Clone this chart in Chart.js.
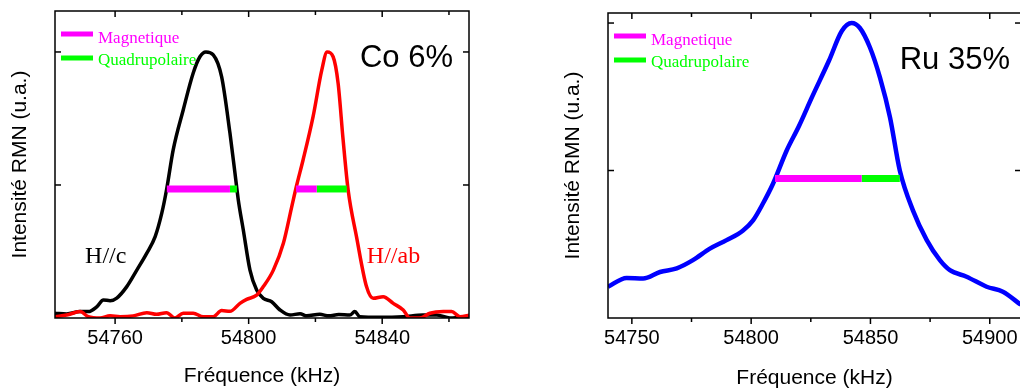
<!DOCTYPE html>
<html>
<head>
<meta charset="utf-8">
<script src="https://cdn.jsdelivr.net/npm/chart.js@4"></script>
<style>
  html, body { margin: 0; padding: 0; background: #fff; overflow: hidden; width: 1020px; height: 391px; }
  #co { position: absolute; left: 0; top: 0; }
  #ru { position: absolute; left: 550px; top: 0; }
</style>
</head>
<body>
<canvas id="co" width="510" height="391"></canvas>
<canvas id="ru" width="480" height="391"></canvas>
<script>
// Co 6% : H//c spectrum
const coFreqC = [54742.0, 54745.5, 54749.5, 54752.0, 54754.5, 54756.5, 54758.5, 54760.5,
  54763.5, 54766.5, 54769.5, 54772.0, 54774.0, 54775.4, 54777.4, 54780.4, 54783.4, 54785.4,
  54787.2, 54789.4, 54791.9, 54794.4, 54795.9, 54796.9, 54798.4, 54800.4, 54802.4, 54804.4,
  54806.9, 54809.4, 54812.4, 54815.4, 54817.4, 54821.3, 54824.0, 54827.0, 54830.3, 54831.8,
  54833.3, 54839.3, 54846.2, 54852.2, 54856.3, 54860.3, 54866.3];
const coIntC = [0.018, 0.015, 0.024, 0.024, 0.042, 0.068, 0.065, 0.075,
  0.118, 0.180, 0.244, 0.306, 0.395, 0.481, 0.632, 0.782, 0.921, 0.982,
  1.000, 0.989, 0.907, 0.695, 0.545, 0.444, 0.331, 0.180, 0.105, 0.074,
  0.061, 0.030, 0.011, 0.016, 0.008, 0.014, 0.008, 0.013, 0.011, 0.024,
  0.005, 0.003, 0.005, 0.011, 0.011, 0.000, 0.005];

// Co 6% : H//ab spectrum
const coFreqAB = [54742.0, 54745.5, 54749.5, 54752.0, 54755.5, 54758.5, 54761.5, 54765.4,
  54769.5, 54772.4, 54775.4, 54777.9, 54780.4, 54783.4, 54786.4, 54789.4, 54791.9, 54794.4,
  54797.4, 54799.4, 54802.4, 54804.4, 54807.4, 54810.4, 54812.9, 54814.4, 54816.3, 54819.3,
  54821.9, 54823.5, 54825.3, 54826.8, 54828.3, 54829.8, 54832.3, 54835.3, 54837.3, 54840.3,
  54843.3, 54846.3, 54848.3, 54851.3, 54854.3, 54858.3, 54860.8, 54863.3, 54866.3];
const coIntAB = [0.005, 0.011, 0.024, 0.005, 0.000, 0.008, 0.005, 0.008,
  0.020, 0.014, 0.020, 0.000, 0.018, 0.018, 0.005, 0.005, 0.028, 0.025,
  0.055, 0.070, 0.086, 0.118, 0.180, 0.281, 0.418, 0.500, 0.594, 0.757,
  0.932, 1.000, 0.982, 0.882, 0.669, 0.481, 0.306, 0.118, 0.074, 0.080,
  0.055, 0.030, 0.000, 0.000, 0.018, 0.024, 0.024, 0.005, 0.011];

// Ru 35% spectrum
const ruFreq = [54740.0, 54747.8, 54754.7, 54761.8, 54768.8, 54775.6, 54782.7, 54789.7,
  54796.6, 54800.8, 54805.0, 54809.2, 54814.9, 54820.0, 54825.4, 54832.6, 54838.0, 54842.1,
  54845.5, 54849.8, 54854.0, 54858.2, 54862.3, 54867.8, 54873.6, 54879.1, 54883.3, 54890.3,
  54898.7, 54905.5, 54913.0];
const ruInt = [0.106, 0.136, 0.134, 0.156, 0.168, 0.196, 0.235, 0.264,
  0.297, 0.331, 0.389, 0.456, 0.568, 0.650, 0.747, 0.872, 0.973, 1.000,
  0.984, 0.917, 0.815, 0.680, 0.500, 0.365, 0.264, 0.196, 0.162, 0.140,
  0.106, 0.089, 0.045];

// width bars: [start, magnetic end, quadrupolar end], height
const coBarC = [54775.5, 54794.4, 54796.5];
const coBarAB = [54814.2, 54820.4, 54829.4];
const coBarLevel = 0.485;
const ruBar = [54810.0, 54846.3, 54862.3];
const ruBarLevel = 0.473;

// axes
const coRange = [54742, 54866];
const coTicks = [54760, 54800, 54840];
const coMinor = [54780, 54820, 54860];
const ruRange = [54740, 54913.1];
const ruTicks = [54750, 54800, 54850, 54900];
const ruMinor = [54775, 54825, 54875];
const yTicks = [0.5, 1.0];

const MAGENTA = '#ff00ff';
const GREEN = '#00ff00';
const SANS = '"Liberation Sans", Arial, sans-serif';
const SERIF = '"Liberation Serif", "Times New Roman", serif';

const pts = (xs, ys) => xs.map((v, i) => ({ x: v, y: ys[i] }));
const curve = (xs, ys, color, w) => ({
  data: pts(xs, ys), borderColor: color, borderWidth: w,
  cubicInterpolationMode: 'monotone', pointRadius: 0
});
const bar = (b, level) => [
  { data: [{ x: b[0], y: level }, { x: b[1], y: level }], borderColor: MAGENTA, borderWidth: 7, borderCapStyle: 'butt', pointRadius: 0 },
  { data: [{ x: b[1], y: level }, { x: b[2], y: level }], borderColor: GREEN, borderWidth: 7, borderCapStyle: 'butt', pointRadius: 0 }
];

const framePlugin = {
  id: 'frame',
  afterDatasetsDraw(chart, args, o) {
    const ctx = chart.ctx, a = chart.chartArea, x = chart.scales.x, y = chart.scales.y;
    const seg = (x1, y1, x2, y2) => { ctx.beginPath(); ctx.moveTo(x1, y1); ctx.lineTo(x2, y2); ctx.stroke(); };
    ctx.save();
    ctx.strokeStyle = '#000';
    ctx.lineWidth = 1.5;
    ctx.strokeRect(a.left, a.top, a.right - a.left, a.bottom - a.top);
    o.xMajor.forEach(v => { const p = x.getPixelForValue(v); seg(p, a.bottom, p, a.bottom + 6); seg(p, a.top, p, a.top + 6); });
    o.xMinor.forEach(v => { const p = x.getPixelForValue(v); seg(p, a.bottom, p, a.bottom + 4); seg(p, a.top, p, a.top + 4); });
    o.yMajor.forEach(v => { const p = y.getPixelForValue(v); seg(a.left, p, a.left + 6, p); seg(a.right, p, a.right - 6, p); });

    // legend
    ctx.fillStyle = MAGENTA; ctx.fillRect(a.left + 6, a.top + 20.5, 32, 5);
    ctx.fillStyle = GREEN; ctx.fillRect(a.left + 6, a.top + 44.5, 32, 5);
    ctx.font = '17px ' + SERIF;
    ctx.textBaseline = 'alphabetic';
    ctx.fillStyle = MAGENTA; ctx.fillText('Magnetique', a.left + 43, a.top + 32);
    ctx.fillStyle = GREEN; ctx.fillText('Quadrupolaire', a.left + 43, a.top + 54);

    // sample name
    ctx.font = '31px ' + SANS;
    ctx.fillStyle = '#000';
    ctx.textAlign = 'right';
    ctx.fillText(o.sample, a.right - o.sampleDx, a.top + 56);

    ctx.textAlign = 'left';
    ctx.font = '24px ' + SERIF;
    o.notes.forEach(n => { ctx.fillStyle = n.color; ctx.fillText(n.text, x.getPixelForValue(n.x), y.getPixelForValue(n.y)); });
    ctx.restore();
  }
};

function options(c) {
  return {
    responsive: false,
    animation: false,
    layout: { padding: { top: c.top, right: c.right, left: 0, bottom: 0 } },
    plugins: { legend: { display: false }, tooltip: { enabled: false }, frame: c.frame },
    scales: {
      x: {
        type: 'linear', min: c.range[0], max: c.range[1],
        grid: { display: false, drawTicks: false }, border: { display: false },
        afterBuildTicks: s => { s.ticks = c.ticks.map(v => ({ value: v })); },
        afterFit: s => { s.height = 73; },
        ticks: { callback: v => String(v), font: { family: SANS, size: 20 }, color: '#000', padding: 8, maxRotation: 0, autoSkip: false },
        title: { display: true, text: 'Fréquence (kHz)', font: { family: SANS, size: 21 }, color: '#000', padding: { top: 0, bottom: c.xTitlePad } }
      },
      y: {
        min: 0, max: c.yMax,
        grid: { display: false, drawTicks: false }, border: { display: false },
        ticks: { display: false },
        afterFit: s => { s.width = c.left; },
        title: { display: true, text: 'Intensité RMN (u.a.)', font: { family: SANS, size: 21 }, color: '#000', padding: { top: c.yTitlePad, bottom: 0 } }
      }
    }
  };
}

new Chart(document.getElementById('co'), {
  type: 'line',
  data: {
    datasets: [
      ...bar(coBarC, coBarLevel),
      ...bar(coBarAB, coBarLevel),
      curve(coFreqAB, coIntAB, '#ff0000', 3.5),
      curve(coFreqC, coIntC, '#000000', 3.5)
    ]
  },
  options: options({
    top: 11, right: 41, left: 55, range: coRange, ticks: coTicks, yMax: 1.154,
    xTitlePad: 2.4, yTitlePad: 7.4,
    frame: {
      xMajor: coTicks, xMinor: coMinor, yMajor: yTicks, sample: 'Co 6%', sampleDx: 16,
      notes: [
        { text: 'H//c', x: 54751.0, y: 0.207, color: '#000' },
        { text: 'H//ab', x: 54835.4, y: 0.207, color: '#ff0000' }
      ]
    }
  }),
  plugins: [framePlugin]
});

new Chart(document.getElementById('ru'), {
  type: 'line',
  data: {
    datasets: [
      ...bar(ruBar, ruBarLevel),
      curve(ruFreq, ruInt, '#0000ff', 4.5)
    ]
  },
  options: options({
    top: 13, right: 9, left: 58, range: ruRange, ticks: ruTicks, yMax: 1.034,
    xTitlePad: 0.4, yTitlePad: 10.4,
    frame: { xMajor: ruTicks, xMinor: ruMinor, yMajor: yTicks, sample: 'Ru 35%', sampleDx: 11, notes: [] }
  }),
  plugins: [framePlugin]
});
</script>
</body>
</html>
